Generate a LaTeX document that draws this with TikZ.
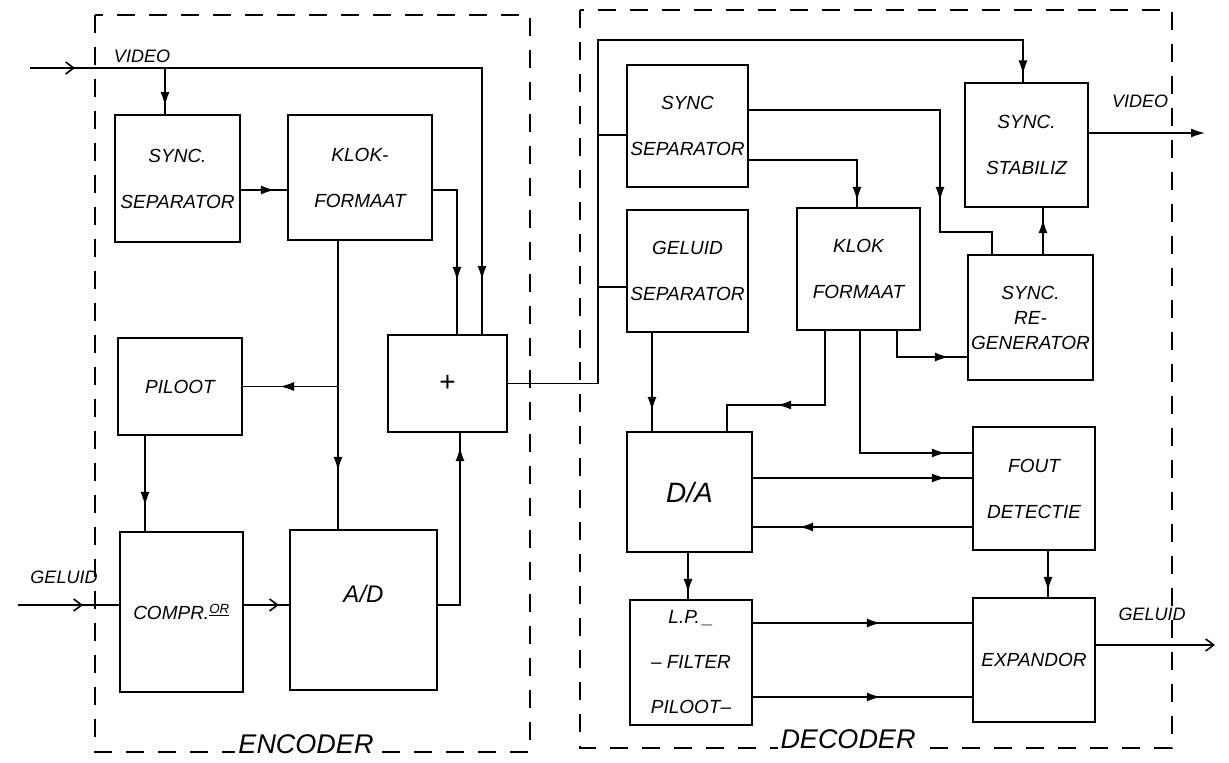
\documentclass[tikz,border=0pt]{standalone}
\usepackage{fontspec}
\setmainfont{Liberation Sans}
\usetikzlibrary{arrows.meta,decorations.markings}

\tikzset{
  blk/.style={draw,line width=1.8pt,inner sep=2pt,align=center,font=\fontsize{19}{46}\selectfont\itshape},
  wire/.style={line width=1.6pt},
  arrat/.style={postaction={decorate,decoration={markings,mark=at position #1 with {\arrow{Latex[length=14pt,width=9pt]}}}}},
  barbat/.style={postaction={decorate,decoration={markings,mark=at position #1 with {\arrow{Straight Barb[length=8pt,width=12pt]}}}}},
  frame/.style={line width=1.7pt,dash pattern=on 18pt off 14pt},
  sig/.style={font=\fontsize{18}{20}\selectfont\itshape,inner sep=1pt},
  title/.style={font=\fontsize{27}{30}\selectfont\itshape,fill=white,inner sep=3pt}
}

\begin{document}
\begin{tikzpicture}[x=1pt,y=-1pt]
  \useasboundingbox (0,0) rectangle (1229,763);

  % dashed frames
  \draw[frame] (95,15) rectangle (530,752);
  \draw[frame] (580,10) rectangle (1172,748);
  \node[title] (tenc) at (306,744) {ENCODER};
  \node[title] (tdec) at (848,739) {DECODER};

  % encoder blocks
  \node[blk,minimum width=125pt,minimum height=127pt] (ssepE) at (177.5,178.5) {SYNC.\\SEPARATOR};
  \node[blk,minimum width=144pt,minimum height=125pt] (klokE) at (360,177.5) {KLOK-\\FORMAAT};
  \node[blk,minimum width=124pt,minimum height=97pt] (pilE) at (180,386.5) {PILOOT};
  \node[blk,minimum width=123pt,minimum height=160pt] (compE) at (181.5,612) {COMPR.\textsuperscript{\underline{OR}}};
  \node[blk,minimum width=147pt,minimum height=160pt,font=\fontsize{24}{26}\selectfont\itshape] (adE) at (363.5,610) {A/D\\[6pt]};
  \node[blk,minimum width=119pt,minimum height=97pt,font=\fontsize{28}{30}\selectfont] (plus) at (447.5,383.5) {+};

  % decoder blocks
  \node[blk,minimum width=121pt,minimum height=122pt] (ssepD) at (687.5,126) {SYNC\\SEPARATOR};
  \node[blk,minimum width=121pt,minimum height=122pt] (gsep) at (687.5,271) {GELUID\\SEPARATOR};
  \node[blk,minimum width=123pt,minimum height=122pt] (klokD) at (858.5,269) {KLOK\\FORMAAT};
  \node[blk,minimum width=123pt,minimum height=124pt] (stab) at (1026.5,145) {SYNC.\\STABILIZ};
  \node[blk,minimum width=125pt,minimum height=125pt,font=\fontsize{19}{25}\selectfont\itshape] (regen) at (1030.5,317.5) {SYNC.\\RE-\\GENERATOR};
  \node[blk,minimum width=125pt,minimum height=120pt,font=\fontsize{28}{30}\selectfont\itshape] (da) at (689.5,492) {D/A};
  \node[blk,minimum width=122pt,minimum height=123pt] (fout) at (1034,488.5) {FOUT\\DETECTIE};
  \node[blk,minimum width=122pt,minimum height=125pt,font=\fontsize{19}{45}\selectfont\itshape] (lp) at (691,662.5) {L.P.\,\_\\-- FILTER\\PILOOT--};
  \node[blk,minimum width=122pt,minimum height=124pt] (exp) at (1034,660) {EXPANDOR};

  % signal labels
  \node[sig] (lvin) at (142,56) {VIDEO};
  \node[sig] (lain) at (64,577) {GELUID};
  \node[sig] (lvout) at (1140,101) {VIDEO};
  \node[sig] (laout) at (1152,614) {GELUID};

  % encoder wiring
  \coordinate (vin) at (30,68);
  \coordinate (vtap) at (165,68);
  \coordinate (ain) at (18,605);
  \draw[wire,barbat=45pt,arrat=664pt] (vin) -| ([xshift=34.5pt]plus.north);
  \draw[wire,arrat=38pt] (vtap) -- (vtap |- ssepE.north);
  \coordinate (s1) at ([yshift=-11.5pt]ssepE.east);
  \draw[wire,arrat=34pt] (s1) -- (s1 -| klokE.west);
  \draw[wire,arrat=115pt] ([yshift=-12.5pt]klokE.east) -| ([xshift=9.5pt]plus.north);
  \coordinate (k1) at ([xshift=-22pt]klokE.south);
  \draw[wire,arrat=230pt] (k1) -- (k1 |- adE.north);
  \coordinate (ktap) at (k1 |- pilE.east);
  \draw[wire,arrat=58pt] (ktap) -- (pilE.east);
  \coordinate (p1) at ([xshift=-35pt]pilE.south);
  \draw[wire,arrat=70pt] (p1) -- (p1 |- compE.north);
  \draw[wire,barbat=65pt] (ain) -- (ain -| compE.west);
  \coordinate (c1) at ([yshift=7pt]compE.east);
  \draw[wire,barbat=35pt] (c1) -- (c1 -| adE.west);
  \draw[wire,arrat=180pt] ([yshift=5pt]adE.east) -| ([xshift=12.5pt]plus.south);

  % decoder wiring
  \coordinate (busB) at (598,383.5);
  \coordinate (busT) at (598,40);
  \draw[wire,arrat=893pt] (plus.east) -- (busB) -- (busT) -| ([xshift=-3.5pt]stab.north);
  \coordinate (d1) at ([yshift=-9pt]ssepD.west);
  \draw[wire] (d1 -| busT) -- (d1);
  \coordinate (g1) at ([yshift=-16pt]gsep.west);
  \draw[wire] (g1 -| busT) -- (g1);
  \coordinate (s2) at ([yshift=16pt]ssepD.east);
  \coordinate (s2b) at (940,232);
  \draw[wire,arrat=282pt] (s2) -| (s2b) -| ([xshift=-38.5pt]regen.north);
  \draw[wire,arrat=149pt] ([yshift=-34pt]ssepD.east) -| ([xshift=-1.5pt]klokD.north);
  \coordinate (r1) at ([xshift=12.5pt]regen.north);
  \draw[wire,arrat=35pt] (r1) -- (r1 |- stab.south);
  \coordinate (vout) at (1205,133);
  \draw[wire,-{Latex[length=14pt,width=9pt]}] ([yshift=12pt]stab.east) -- (vout);
  \draw[wire,arrat=78pt] ([xshift=38.5pt]klokD.south) |- ([yshift=-39.5pt]regen.west);
  \coordinate (k2) at (727,405);
  \draw[wire,arrat=122pt] ([xshift=-33.5pt]klokD.south) |- (k2) -- (k2 |- da.north);
  \draw[wire,arrat=208pt] ([xshift=1.5pt]klokD.south) |- ([yshift=35.5pt]fout.west);
  \coordinate (g2) at ([xshift=-35.5pt]gsep.south);
  \draw[wire,arrat=78pt] (g2) -- (g2 |- da.north);
  \coordinate (a1) at ([yshift=14pt]da.east);
  \draw[wire,arrat=193pt] (a1) -- (a1 -| fout.west);
  \coordinate (f1) at ([yshift=-38.5pt]fout.west);
  \draw[wire,arrat=173pt] (f1) -- (f1 -| da.east);
  \coordinate (f2) at ([xshift=14pt]fout.south);
  \draw[wire,arrat=40pt] (f2) -- (f2 |- exp.north);
  \coordinate (a2) at ([xshift=-1.5pt]da.south);
  \draw[wire,arrat=40pt] (a2) -- (a2 |- lp.north);
  \coordinate (l1) at ([yshift=39.5pt]lp.east);
  \draw[wire,arrat=128pt] (l1) -- (l1 -| exp.west);
  \coordinate (l2) at ([yshift=-34.5pt]lp.east);
  \draw[wire,arrat=128pt] (l2) -- (l2 -| exp.west);
  \coordinate (aout) at (1215,645);
  \draw[wire,-{Straight Barb[length=8pt,width=12pt]}] ([yshift=15pt]exp.east) -- (aout);
\end{tikzpicture}
\end{document}
